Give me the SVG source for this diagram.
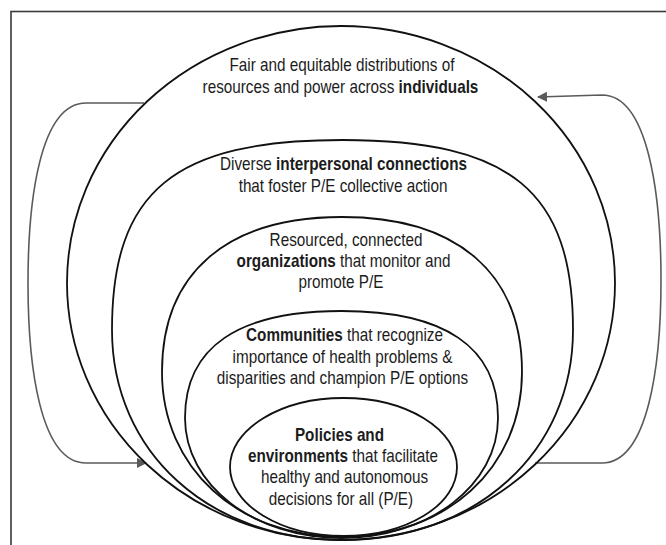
<svg xmlns="http://www.w3.org/2000/svg" width="666" height="545" viewBox="0 0 666 545">
  <style>
    .ring { fill: none; stroke: #111; stroke-width: 1.8; }
    .frame { fill: none; stroke: #3a3a3a; stroke-width: 1.6; }
    .link { fill: none; stroke: #5a5a5a; stroke-width: 1.6; }
    text { font-family: "Liberation Sans", Arial, sans-serif; font-size: 18.5px; fill: #1c1c1c; text-anchor: middle; }
    .b { font-weight: bold; }
  </style>
  <defs>
    <marker id="arrow" viewBox="0 0 10 10" refX="9" refY="5" markerWidth="10" markerHeight="10" markerUnits="userSpaceOnUse" orient="auto">
      <path d="M0,0 L10,5 L0,10 z" fill="#5a5a5a"/>
    </marker>
  </defs>

  <rect class="frame" x="11" y="11.5" width="700" height="600"/>

  <g id="connectors">
    <path class="link" d="M144,103 H86 C40,103 28,200 28,283 C28,366 40,463 86,463 H146" marker-end="url(#arrow)"/>
    <path class="link" d="M535,463 H602 C648,463 661,366 661,280 C661,194 648,95 602,95 L538,97" marker-end="url(#arrow)"/>
  </g>

  <!-- labels use a condensed face: x positions below are divided by the 0.826 horizontal scale -->
  <g id="individuals">
    <ellipse class="ring" cx="341" cy="283" rx="274" ry="257"/>
    <g transform="scale(0.826,1)">
      <text x="414" y="71">Fair and equitable distributions of</text>
      <text x="412.2" y="93">resources and power across <tspan class="b">individuals</tspan></text>
    </g>
  </g>

  <g id="interpersonal">
    <path class="ring" d="M342.5,140 C510.8,140 573,191 573,330 C573,452 476,540 342.5,540 C209,540 112,452 112,330 C112,191 174.2,140 342.5,140 Z"/>
    <g transform="scale(0.826,1)">
      <text x="415.9" y="170">Diverse <tspan class="b">interpersonal connections</tspan></text>
      <text x="415.3" y="192">that foster P/E collective action</text>
    </g>
  </g>

  <g id="organizations">
    <path class="ring" d="M342,217 C457,217 522,273 522,372 C522,468 446,537 342,537 C238,537 162,468 162,372 C162,273 227,217 342,217 Z"/>
    <g transform="scale(0.826,1)">
      <text x="418.9" y="246">Resourced, connected</text>
      <text x="415.9" y="267"><tspan class="b">organizations</tspan> that monitor and</text>
      <text x="412.8" y="288">promote P/E</text>
    </g>
  </g>

  <g id="communities">
    <path class="ring" d="M341.5,311 C444.8,311 498,347 498,418 C498,485 429,538 341.5,538 C254,538 185,485 185,418 C185,347 238.2,311 341.5,311 Z"/>
    <g transform="scale(0.826,1)">
      <text x="417.1" y="341"><tspan class="b">Communities</tspan> that recognize</text>
      <text x="414.6" y="363">importance of health problems &amp;</text>
      <text x="414.6" y="384">disparities and champion P/E options</text>
    </g>
  </g>

  <g id="policies">
    <ellipse class="ring" cx="343.5" cy="467" rx="113.5" ry="69"/>
    <g transform="scale(0.826,1)">
      <text class="b" x="411" y="441">Policies and</text>
      <text x="415.3" y="462"><tspan class="b">environments</tspan> that facilitate</text>
      <text x="417.1" y="483">healthy and autonomous</text>
      <text x="412.8" y="505">decisions for all (P/E)</text>
    </g>
  </g>
</svg>
